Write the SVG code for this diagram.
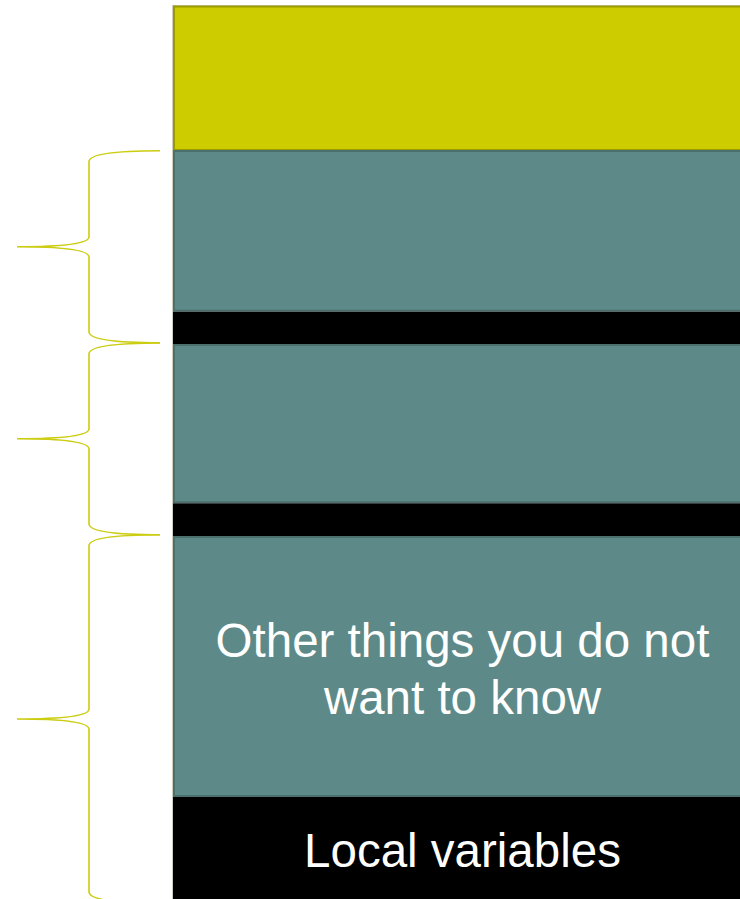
<svg xmlns="http://www.w3.org/2000/svg" width="740" height="899" viewBox="0 0 740 899">
  <style>
    .yellow { fill: #cccc00; stroke: #9b9b00; stroke-width: 2; }
    .teal { fill: #5d8a88; stroke: #4a6f6d; stroke-width: 2; }
    .black { fill: #000000; }
    .lbl { font-family: "Liberation Sans", Arial, sans-serif; font-size: 47.5px; fill: #ffffff; text-anchor: middle; }
    .brace { fill: none; stroke: #cccc11; stroke-width: 1.6; }
  </style>
  <rect x="0" y="0" width="740" height="899" fill="#ffffff"/>
  <rect x="172.5" y="5.5" width="600" height="900" fill="none" stroke="#cfcfc0" stroke-width="1"/>
  <g id="block-top">
    <rect class="yellow" x="174" y="6.5" width="600" height="143.5"/>
  </g>
  <g id="block-1">
    <rect class="teal" x="174" y="151" width="600" height="159.7"/>
  </g>
  <g id="sep-1">
    <rect class="black" x="173" y="311.7" width="600" height="32.3"/>
  </g>
  <g id="block-2">
    <rect class="teal" x="174" y="345" width="600" height="157.3"/>
  </g>
  <g id="sep-2">
    <rect class="black" x="173" y="503.3" width="600" height="32.7"/>
  </g>
  <g id="block-3">
    <rect class="teal" x="174" y="537" width="600" height="259"/>
    <text class="lbl" x="462.5" y="657">Other things you do not</text>
    <text class="lbl" x="462.5" y="713.5">want to know</text>
  </g>
  <g id="block-local">
    <rect class="black" x="173" y="797" width="600" height="110"/>
    <text class="lbl" x="462.5" y="867.3">Local variables</text>
  </g>
  <g id="connectors">
    <path class="brace" d="M160,150.7 C120,150.7 89,153.2 89,161.7 L89,236.7 C89,244 60,246.7 17,246.7 C60,246.7 89,249.4 89,257 L89,331.7 C89,340 120,342.7 160,342.7"/>
    <path class="brace" d="M160,343 C120,343 89,345.5 89,354 L89,428.7 C89,436 60,438.7 17,438.7 C60,438.7 89,441.4 89,449 L89,523.7 C89,532 120,534.7 160,534.7"/>
    <path class="brace" d="M160,534.7 C120,534.7 89,537.2 89,545.7 L89,709 C89,716.3 60,719 17,719 C60,719 89,721.7 89,729.3 L89,892 C89,900.3 120,903 160,903"/>
  </g>
</svg>
